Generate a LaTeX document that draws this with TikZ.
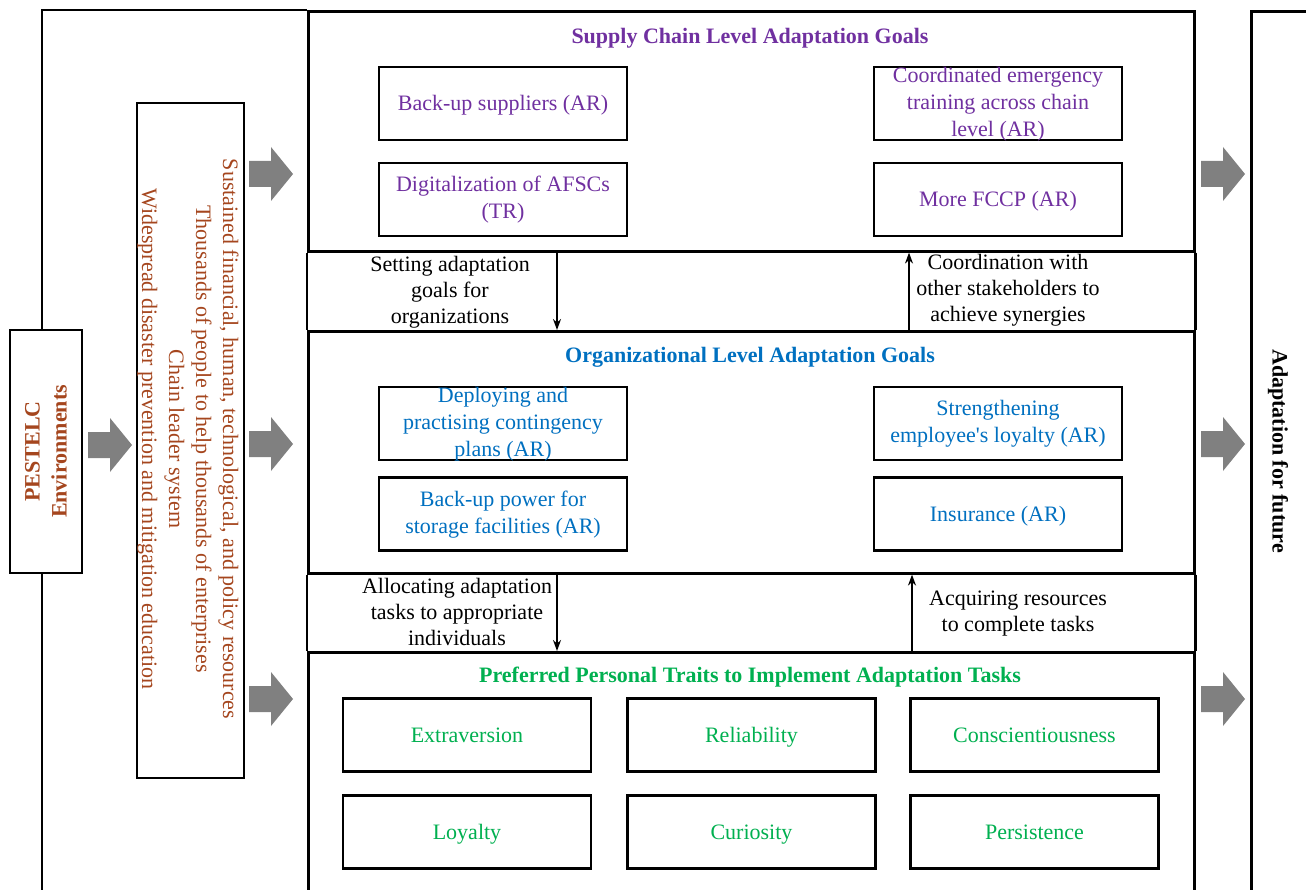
\documentclass[tikz,border=0pt]{standalone}
\usepackage{fontspec}
\setmainfont{Liberation Serif}
\usetikzlibrary{arrows.meta,calc}
\definecolor{purp}{RGB}{112,48,160}
\definecolor{blu}{RGB}{0,112,192}
\definecolor{grn}{RGB}{0,176,80}
\definecolor{brn}{RGB}{165,70,30}
\definecolor{agray}{RGB}{128,128,128}
\tikzset{
 frame/.style={draw=black,line width=2.6pt},
 panel/.style={frame, anchor=north west, minimum width=886pt, inner sep=0pt},
 gbox/.style={frame, fill=white, minimum width=248pt, minimum height=73pt, inner sep=0pt},
 btext/.style={text=#1, align=center, font=\fontsize{22}{27}\selectfont, inner sep=0pt, yshift=-2pt,
   execute at begin node=\strut, execute at end node=\strut},
 ttl/.style={text=#1, font=\fontsize{22}{27}\selectfont\bfseries, inner sep=0pt},
 lbl/.style={align=center, font=\fontsize{22}{26}\selectfont, inner sep=0pt},
 conn/.style={line width=1.6pt, -{Stealth[length=11pt,width=8pt]}},
 garrow/.pic={\fill[agray] (-22,-13) -- (0,-13) -- (0,-27) -- (22,0) -- (0,27) -- (0,13) -- (-22,13) -- cycle;}
}
\begin{document}
\begin{tikzpicture}[x=1pt,y=-1pt]
\useasboundingbox (0,0) rectangle (1306,890);
\clip (0,0) rectangle (1306,890);
% outer frame
\draw[frame] (42,900) -- (42,10) -- (307,10);
% middle column
\node[panel, minimum height=240pt] (sc) at (307,10) {};
\node[panel, minimum height=242pt] (org) at (307,330) {};
\node[panel, minimum height=260pt] (per) at (307,651) {};
\draw[frame] (sc.south west) -- (org.north west);
\draw[frame] (sc.south east) -- (org.north east);
\draw[frame] (org.south west) -- (per.north west);
\draw[frame] (org.south east) -- (per.north east);
% PESTELC box
\node[frame, fill=white, minimum width=72pt, minimum height=243pt] (pe) at (46,451.5) {};
\node[rotate=90, text=brn, align=center, font=\fontsize{22}{27}\selectfont\bfseries] (pet) at (pe.center) {PESTELC\\Environments};
% resources box
\node[frame, minimum width=107pt, minimum height=675pt] (res) at (190.5,440.5) {};
\node[rotate=-90, text=brn, align=center, font=\fontsize{22}{27}\selectfont] (rest) at (188,439) {Sustained financial, human, technological, and policy resources\\Thousands of people to help thousands of enterprises\\Chain leader system\\Widespread disaster prevention and mitigation education};
% future box
\node[frame, anchor=north west, minimum width=90pt, minimum height=900pt] (fut) at (1250,10) {};
\node[rotate=-90, font=\fontsize{22}{27}\selectfont\bfseries] (futt) at (1278,451) {Adaptation for future};
% gray arrows
\pic (ga0) at (110,445) {garrow};
\pic (ga1) at (271,174) {garrow};
\pic (ga2) at (271,444) {garrow};
\pic (ga3) at (271,699) {garrow};
\pic (gb1) at (1223,174) {garrow};
\pic (gb2) at (1223,444) {garrow};
\pic (gb3) at (1223,699) {garrow};
% supply chain panel
\node[ttl=purp] (sct) at (750,38) {Supply Chain Level Adaptation Goals};
\node[gbox] (s1) at (503,103.5) {};
\node[btext=purp] (s1t) at (s1.center) {Back-up suppliers (AR)};
\node[gbox] (s2) at (998,103.5) {};
\node[btext=purp] (s2t) at (s2.center) {Coordinated emergency\\training across chain\\level (AR)};
\node[gbox] (s3) at (503,199.5) {};
\node[btext=purp] (s3t) at (s3.center) {Digitalization of AFSCs\\(TR)};
\node[gbox] (s4) at (998,199.5) {};
\node[btext=purp] (s4t) at (s4.center) {More FCCP (AR)};
% band 1
\draw[conn] ($(sc.south west)+(250,0)$) -- ($(org.north west)+(250,0)$);
\draw[conn] ($(org.north west)+(602,0)$) -- ($(sc.south west)+(602,0)$);
\node[lbl] (l1) at (450,292) {Setting adaptation\\goals for\\organizations};
\node[lbl] (l2) at (1008,290) {Coordination with\\other stakeholders to\\achieve synergies};
% organizational panel
\node[ttl=blu] (ort) at (750,357) {Organizational Level Adaptation Goals};
\node[gbox] (o1) at (503,423.5) {};
\node[btext=blu] (o1t) at (o1.center) {Deploying and\\practising contingency\\plans (AR)};
\node[gbox] (o2) at (998,423.5) {};
\node[btext=blu] (o2t) at (o2.center) {Strengthening\\employee\textquotesingle s loyalty (AR)};
\node[gbox] (o3) at (503,514) {};
\node[btext=blu] (o3t) at (o3.center) {Back-up power for\\storage facilities (AR)};
\node[gbox] (o4) at (998,514) {};
\node[btext=blu] (o4t) at (o4.center) {Insurance (AR)};
% band 2
\draw[conn] ($(org.south west)+(250,0)$) -- ($(per.north west)+(250,0)$);
\draw[conn] ($(per.north west)+(605,0)$) -- ($(org.south west)+(605,0)$);
\node[lbl] (l3) at (457,612) {Allocating adaptation\\tasks to appropriate\\individuals};
\node[lbl] (l4) at (1018,614) {Acquiring resources\\to complete tasks};
% personal panel
\node[ttl=grn] (pert) at (750,677) {Preferred Personal Traits to Implement Adaptation Tasks};
\node[gbox] (p1) at (467,735) {};
\node[btext=grn] (p1t) at (p1.center) {Extraversion};
\node[gbox] (p2) at (751.5,735) {};
\node[btext=grn] (p2t) at (p2.center) {Reliability};
\node[gbox] (p3) at (1034.5,735) {};
\node[btext=grn] (p3t) at (p3.center) {Conscientiousness};
\node[gbox] (p4) at (467,832) {};
\node[btext=grn] (p4t) at (p4.center) {Loyalty};
\node[gbox] (p5) at (751.5,832) {};
\node[btext=grn] (p5t) at (p5.center) {Curiosity};
\node[gbox] (p6) at (1034.5,832) {};
\node[btext=grn] (p6t) at (p6.center) {Persistence};
\end{tikzpicture}
\end{document}
